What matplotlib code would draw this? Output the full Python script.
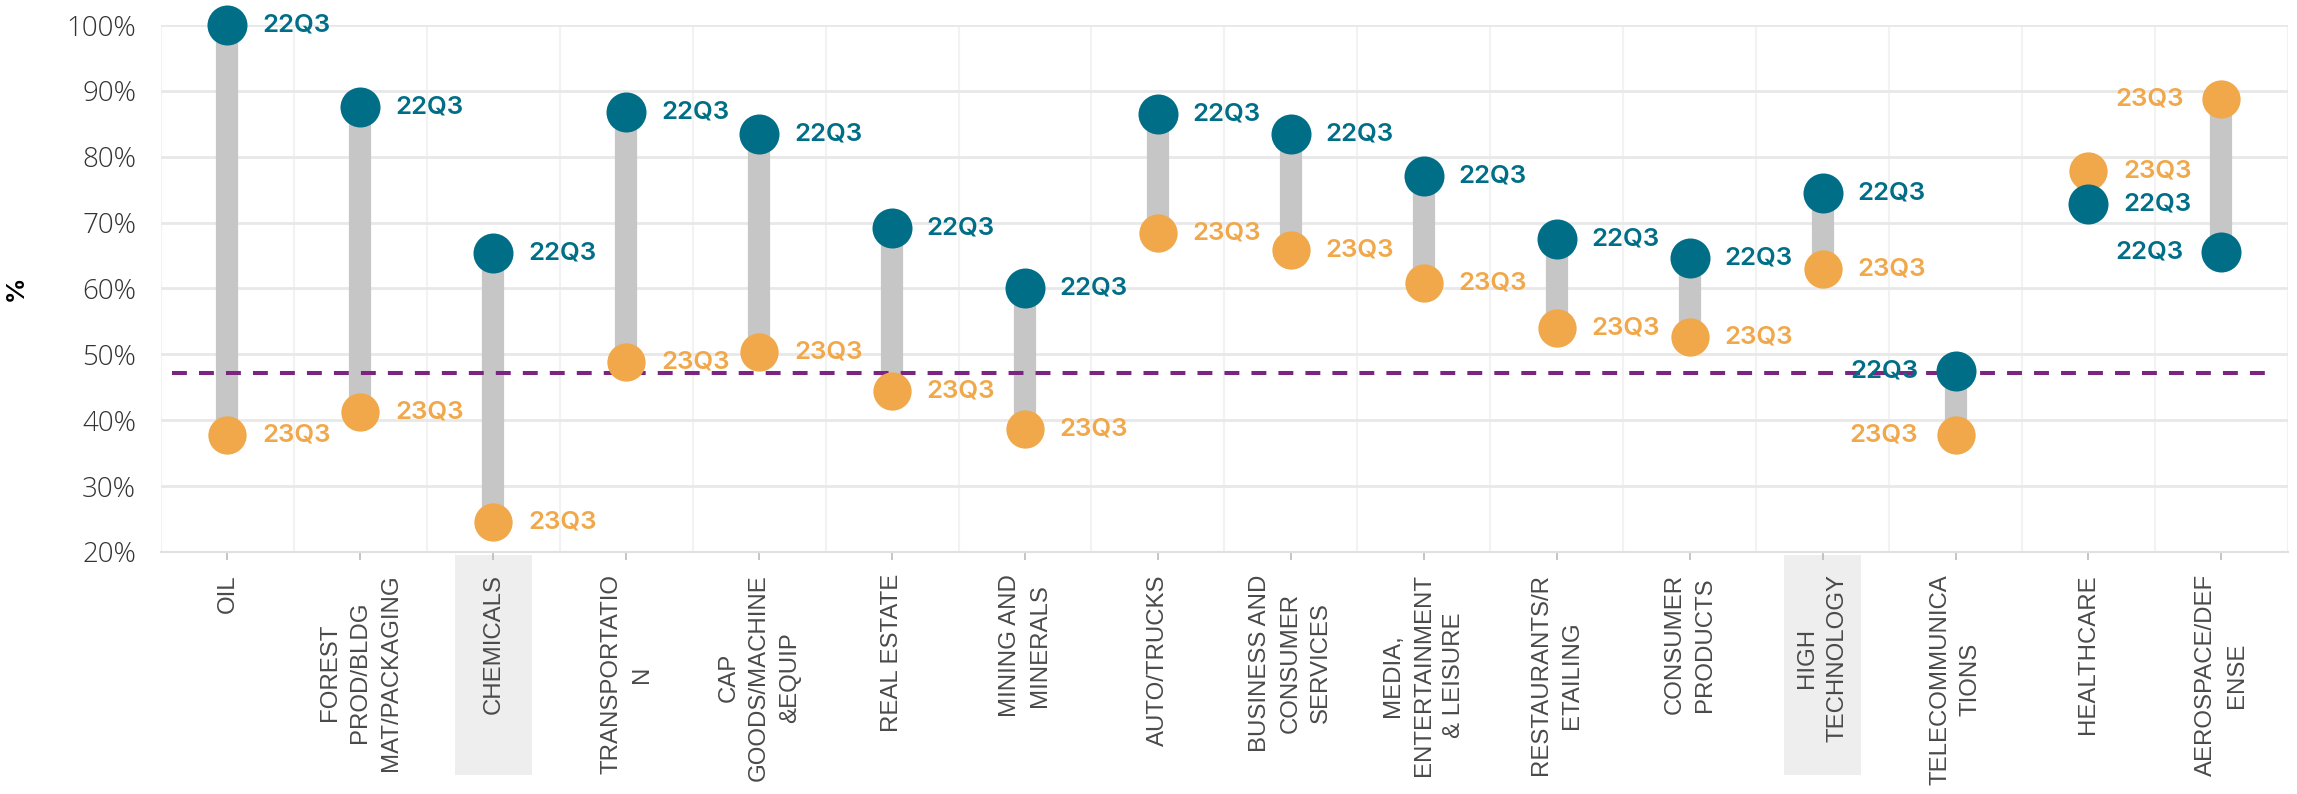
import matplotlib
matplotlib.use('Agg')
import matplotlib.pyplot as plt
from matplotlib.patches import Rectangle
import matplotlib.transforms as mtransforms
from matplotlib.ticker import FuncFormatter, MultipleLocator

categories = ["OIL", "FOREST\nPROD/BLDG\nMAT/PACKAGING", "CHEMICALS", "TRANSPORTATIO\nN",
              "CAP\nGOODS/MACHINE\n&EQUIP", "REAL ESTATE", "MINING AND\nMINERALS", "AUTO/TRUCKS",
              "BUSINESS AND\nCONSUMER\nSERVICES", "MEDIA,\nENTERTAINMENT\n& LEISURE",
              "RESTAURANTS/R\nETAILING", "CONSUMER\nPRODUCTS", "HIGH\nTECHNOLOGY",
              "TELECOMMUNICA\nTIONS", "HEALTHCARE", "AEROSPACE/DEF\nENSE"]
q22_values = [100.0, 87.6, 65.4, 86.8, 83.5, 69.2, 60.1, 86.5, 83.5, 77.1, 67.5, 64.7, 74.5, 47.4, 72.8, 65.5]
q23_values = [37.8, 41.2, 24.6, 48.8, 50.3, 44.5, 38.7, 68.4, 65.8, 60.8, 54.0, 52.6, 63.0, 37.8, 77.8, 88.8]
average_value = 47.1
highlighted = ["CHEMICALS", "HIGH\nTECHNOLOGY"]
series_labels = ["22Q3", "23Q3"]
# label side: +1 right, -1 left
side22 = [1, 1, 1, 1, 1, 1, 1, 1, 1, 1, 1, 1, 1, -1, 1, -1]
side23 = [1, 1, 1, 1, 1, 1, 1, 1, 1, 1, 1, 1, 1, -1, 1, -1]

TEAL = "#006E87"
ORANGE = "#F0A84B"
GREY = "#C6C6C6"
PURPLE = "#7B2482"

fig = plt.figure(figsize=(22.97, 7.94), dpi=100)
ax = fig.add_axes([0.0701, 0.3048, 0.9259, 0.6637])
x = list(range(len(categories)))

ax.set_xlim(-0.5, len(categories) - 0.5)
ax.set_ylim(20, 100)

# grids
ax.yaxis.set_major_locator(MultipleLocator(10))
ax.yaxis.set_major_formatter(FuncFormatter(lambda v, p: f"{int(round(v))}%"))
ax.set_xticks(x)
ax.set_xticks([i - 0.5 for i in x] + [len(x) - 0.5], minor=True)
ax.grid(axis='y', which='major', color='#E8E8E8', linewidth=2.0, zorder=0)
ax.grid(axis='x', which='minor', color='#F2F2F2', linewidth=1.5, zorder=0)
ax.grid(axis='x', which='major', visible=False)
for s in ['top', 'right', 'left']:
    ax.spines[s].set_visible(False)
ax.spines['bottom'].set_color('#E0E0E0')
ax.spines['bottom'].set_linewidth(1.5)

# dumbbell bars
ax.vlines(x, q23_values, q22_values, color=GREY, linewidth=16, zorder=2)
ax.axhline(average_value, xmin=0.005, xmax=0.993, color=PURPLE, linewidth=2.9,
           dashes=(3.7, 3.0), zorder=3)
ax.scatter(x, q23_values, s=760, color=ORANGE, zorder=4, clip_on=False, linewidths=0)
ax.scatter(x, q22_values, s=830, color=TEAL, zorder=5, clip_on=False, linewidths=0)

lab_font = dict(family=['Inter', 'DejaVu Sans'], fontsize=18.5, fontweight='semibold')
for i in x:
    for val, side, col, lab in ((q22_values[i], side22[i], TEAL, series_labels[0]),
                                (q23_values[i], side23[i], ORANGE, series_labels[1])):
        off = 25 if side > 0 else -27
        ax.annotate(lab, (i, val), xytext=(off, 0), textcoords='offset points',
                    ha='left' if side > 0 else 'right', va='center', color=col,
                    zorder=6, annotation_clip=False, **lab_font)

tick_font = dict(family=['Liberation Sans', 'DejaVu Sans'], fontsize=17.3, fontweight='normal')
ax.set_xticklabels(categories, rotation=90, ha='center', va='top', color='#4A4A4A',
                   linespacing=1.5, **tick_font)
for t in ax.get_yticklabels():
    t.set_fontfamily(['Open Sans', 'DejaVu Sans'])
    t.set_fontsize(20)
    t.set_fontweight('light')
    t.set_color('#333333')
ax.tick_params(axis='y', length=0, pad=18)
ax.tick_params(axis='x', which='major', length=6, width=1.2, color='#BBBBBB', pad=10)
ax.tick_params(axis='x', which='minor', length=0)

ax.set_ylabel('%', fontsize=18, fontweight='bold', family=['Inter', 'DejaVu Sans'], labelpad=28)

# highlight boxes behind selected category labels
trans = mtransforms.blended_transform_factory(ax.transData, ax.transAxes)
for i, c in enumerate(categories):
    if c in highlighted:
        r = Rectangle((i - 0.29, -0.424), 0.58, 0.418, transform=trans, facecolor='#EEEEEE',
                      edgecolor='none', clip_on=False, zorder=-1)
        ax.add_artist(r)

fig.savefig('out.png', dpi=100)
